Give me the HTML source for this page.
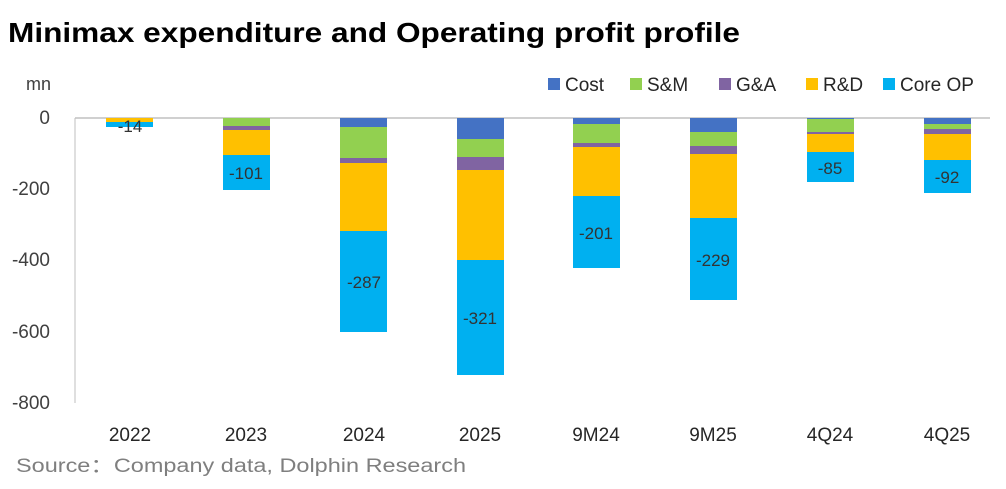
<!DOCTYPE html>
<html><head><style>
body{margin:0;background:#fff;width:1006px;height:484px;overflow:hidden;font-family:"Liberation Sans",sans-serif;}
</style></head><body>
<svg width="1006" height="484" xmlns="http://www.w3.org/2000/svg" font-family="Liberation Sans, sans-serif">
<rect width="1006" height="484" fill="#fff"/>
<text x="8" y="42" font-size="28" font-weight="bold" fill="#000" textLength="732" lengthAdjust="spacingAndGlyphs">Minimax expenditure and Operating profit profile</text>
<text x="26" y="90" font-size="18" fill="#404040">mn</text>
<g font-size="19" fill="#404040" text-anchor="end">
<text x="50" y="124">0</text><text x="50" y="195">-200</text><text x="50" y="266">-400</text><text x="50" y="338">-600</text><text x="50" y="409">-800</text>
</g>
<line x1="75" y1="118" x2="990" y2="118" stroke="#d0d0d0" stroke-width="2"/>
<line x1="75" y1="118" x2="75" y2="403" stroke="#bfbfbf" stroke-width="1"/>
<g id="bars">
<rect x="106" y="118" width="47" height="4" fill="#FFC000"/><rect x="106" y="122" width="47" height="5" fill="#00B0F0"/>
<rect x="223" y="118" width="47" height="8" fill="#92D050"/><rect x="223" y="126" width="47" height="4" fill="#8064A2"/><rect x="223" y="130" width="47" height="25" fill="#FFC000"/><rect x="223" y="155" width="47" height="35" fill="#00B0F0"/>
<rect x="340" y="118" width="47" height="9" fill="#4472C4"/><rect x="340" y="127" width="47" height="31" fill="#92D050"/><rect x="340" y="158" width="47" height="5" fill="#8064A2"/><rect x="340" y="163" width="47" height="68" fill="#FFC000"/><rect x="340" y="231" width="47" height="101" fill="#00B0F0"/>
<rect x="457" y="118" width="47" height="21" fill="#4472C4"/><rect x="457" y="139" width="47" height="18" fill="#92D050"/><rect x="457" y="157" width="47" height="13" fill="#8064A2"/><rect x="457" y="170" width="47" height="90" fill="#FFC000"/><rect x="457" y="260" width="47" height="115" fill="#00B0F0"/>
<rect x="573" y="118" width="47" height="6" fill="#4472C4"/><rect x="573" y="124" width="47" height="19" fill="#92D050"/><rect x="573" y="143" width="47" height="4" fill="#8064A2"/><rect x="573" y="147" width="47" height="49" fill="#FFC000"/><rect x="573" y="196" width="47" height="72" fill="#00B0F0"/>
<rect x="690" y="118" width="47" height="14" fill="#4472C4"/><rect x="690" y="132" width="47" height="14" fill="#92D050"/><rect x="690" y="146" width="47" height="8" fill="#8064A2"/><rect x="690" y="154" width="47" height="64" fill="#FFC000"/><rect x="690" y="218" width="47" height="82" fill="#00B0F0"/>
<rect x="807" y="118" width="47" height="1" fill="#4472C4"/><rect x="807" y="119" width="47" height="13" fill="#92D050"/><rect x="807" y="132" width="47" height="2" fill="#8064A2"/><rect x="807" y="134" width="47" height="18" fill="#FFC000"/><rect x="807" y="152" width="47" height="30" fill="#00B0F0"/>
<rect x="924" y="118" width="47" height="6" fill="#4472C4"/><rect x="924" y="124" width="47" height="5" fill="#92D050"/><rect x="924" y="129" width="47" height="5" fill="#8064A2"/><rect x="924" y="134" width="47" height="26" fill="#FFC000"/><rect x="924" y="160" width="47" height="33" fill="#00B0F0"/>
</g>
<g font-size="17" fill="#333" text-anchor="middle">
<text x="130" y="132">-14</text><text x="246" y="179">-101</text><text x="364" y="288">-287</text><text x="480" y="324">-321</text>
<text x="596" y="239">-201</text><text x="713" y="266">-229</text><text x="830" y="174">-85</text><text x="947" y="183">-92</text>
</g>
<g font-size="19" fill="#262626" text-anchor="middle">
<text x="130" y="441">2022</text><text x="246" y="441">2023</text><text x="364" y="441">2024</text><text x="480" y="441">2025</text>
<text x="596" y="441">9M24</text><text x="713" y="441">9M25</text><text x="830" y="441">4Q24</text><text x="947" y="441">4Q25</text>
</g>
<g font-size="19" fill="#262626">
<rect x="548" y="78" width="12" height="12" fill="#4472C4"/><text x="565" y="91">Cost</text>
<rect x="630" y="78" width="12" height="12" fill="#92D050"/><text x="647" y="91">S&amp;M</text>
<rect x="719" y="78" width="12" height="12" fill="#8064A2"/><text x="736" y="91">G&amp;A</text>
<rect x="806" y="78" width="12" height="12" fill="#FFC000"/><text x="823" y="91">R&amp;D</text>
<rect x="883" y="78" width="12" height="12" fill="#00B0F0"/><text x="900" y="91">Core OP</text>
</g>
<text x="16" y="472" font-size="19" fill="#7f7f7f" textLength="450" lengthAdjust="spacingAndGlyphs">Source：Company data, Dolphin Research</text>
</svg>
</body></html>
